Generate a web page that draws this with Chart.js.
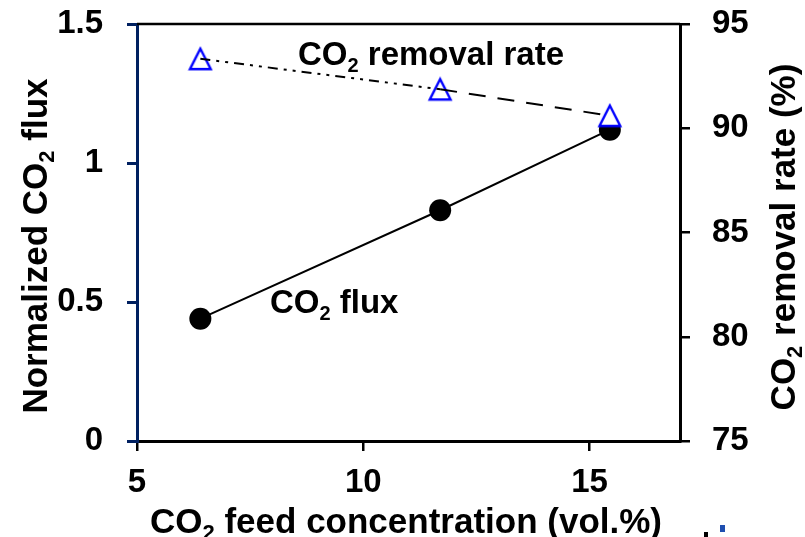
<!DOCTYPE html>
<html><head><meta charset="utf-8">
<script src="https://cdn.jsdelivr.net/npm/chart.js@4"></script>
<style>html,body{margin:0;padding:0;background:#fff}#wrap{width:805px;height:537px;position:relative}</style>
</head><body><div id="wrap"><canvas id="c"></canvas></div>
<script>
// ---- data ----
const feedConc = [6.4, 11.7, 15.45];
const fluxValues = [0.44, 0.83, 1.12];
const removalValues = [93.33, 91.87, 90.6];
const xTicks = [5, 10, 15];
const fluxTicks = [0, 0.5, 1, 1.5];
const removalTicks = [75, 80, 85, 90, 95];
const xTitle = [['CO', 0], ['2', 1], [' feed concentration (vol.%)', 0]];
const yTitle = [['Normalized CO', 0], ['2', 1], [' flux', 0]];
const y2Title = [['CO', 0], ['2', 1], [' removal rate (%)', 0]];
const removalLabel = [['CO', 0], ['2', 1], [' removal rate', 0]];
const fluxLabel = [['CO', 0], ['2', 1], [' flux', 0]];

const FONT = '"Liberation Sans", Arial, sans-serif';
const NAVY = '#002060';

// triangle marker (centred on bounding box like the original)
function makeTriangle() {
  const c = document.createElement('canvas');
  c.width = 26; c.height = 26;
  const g = c.getContext('2d');
  g.beginPath();
  g.moveTo(13, 2.8); g.lineTo(2.6, 23.2); g.lineTo(23.4, 23.2); g.closePath();
  g.fillStyle = '#fff'; g.fill();
  g.lineWidth = 2.4; g.strokeStyle = '#0000ff'; g.lineJoin = 'miter'; g.stroke();
  return c;
}
const tri = makeTriangle();

function richWidth(ctx, parts, size) {
  let w = 0;
  for (const [t, sub] of parts) {
    ctx.font = 'bold ' + (sub ? Math.round(size * 0.62) : size) + 'px ' + FONT;
    w += ctx.measureText(t).width;
  }
  return w;
}
function drawRich(ctx, parts, x, y, size, align) {
  const w = richWidth(ctx, parts, size);
  let cx = align === 'center' ? x - w / 2 : x;
  ctx.fillStyle = '#000';
  ctx.textBaseline = 'alphabetic';
  ctx.textAlign = 'left';
  for (const [t, sub] of parts) {
    ctx.font = 'bold ' + (sub ? Math.round(size * 0.62) : size) + 'px ' + FONT;
    ctx.fillText(t, cx, sub ? y + size * 0.2 : y);
    cx += ctx.measureText(t).width;
  }
}

const textPlugin = {
  id: 'texts',
  afterDraw(chart) {
    const ctx = chart.ctx, a = chart.chartArea;
    ctx.save();
    // top frame line
    ctx.strokeStyle = '#000'; ctx.lineWidth = 2.5;
    ctx.beginPath(); ctx.moveTo(a.left, a.top); ctx.lineTo(a.right, a.top); ctx.stroke();
    // x title
    drawRich(ctx, xTitle, 406, 533, 35, 'center');
    // left title
    ctx.save(); ctx.translate(47, 246); ctx.rotate(-Math.PI / 2);
    drawRich(ctx, yTitle, 0, 0, 35, 'center'); ctx.restore();
    // right title
    ctx.save(); ctx.translate(795, 237); ctx.rotate(-Math.PI / 2);
    drawRich(ctx, y2Title, 0, 0, 35, 'center'); ctx.restore();
    // annotations
    drawRich(ctx, removalLabel, 298, 65, 33, 'left');
    drawRich(ctx, fluxLabel, 270, 313, 33, 'left');
    // small cropped fragments bottom-right
    ctx.fillStyle = '#000'; ctx.fillRect(704, 532, 4, 5);
    ctx.fillStyle = '#1f4fb0'; ctx.fillRect(720, 525, 5, 7);
    ctx.restore();
  }
};

const tickFont = { family: FONT, size: 33, weight: 'bold' };
const plain = v => String(v);
const noPad = s => { s.paddingTop = 0; s.paddingBottom = 0; s.paddingLeft = 0; s.paddingRight = 0; };

new Chart(document.getElementById('c'), {
  type: 'line',
  data: {
    datasets: [
      { // removal-rate line (drawn on top)
        data: feedConc.map((x, i) => ({ x, y: removalValues[i] })),
        yAxisID: 'y2', borderColor: '#000', borderWidth: 2, pointRadius: 0,
        fill: false, tension: 0, order: 0,
        segment: { borderDash: c => c.p0DataIndex === 0 ? [10, 6, 3, 6, 3, 6] : [17, 12] }
      },
      { // removal-rate markers
        data: feedConc.map((x, i) => ({ x, y: removalValues[i] })),
        yAxisID: 'y2', showLine: false, pointStyle: tri, pointRadius: 13,
        order: 1
      },
      { // CO2 flux
        data: feedConc.map((x, i) => ({ x, y: fluxValues[i] })),
        yAxisID: 'y', borderColor: '#000', borderWidth: 2,
        pointStyle: 'circle', pointRadius: 11, pointBackgroundColor: '#000',
        pointBorderColor: '#000', pointBorderWidth: 0, tension: 0, order: 2
      }
    ]
  },
  options: {
    responsive: true, maintainAspectRatio: false, animation: false, devicePixelRatio: 1,
    layout: { padding: { top: 24, left: 0, right: 0, bottom: 0 } },
    plugins: { legend: { display: false }, tooltip: { enabled: false }, title: { display: false } },
    scales: {
      x: {
        type: 'linear', position: 'bottom', min: 5, max: 17,
        afterBuildTicks: s => { s.ticks = xTicks.map(v => ({ value: v })); },
        afterFit: s => { s.height = 96; noPad(s); },
        grid: { drawOnChartArea: false, drawTicks: true, tickLength: 10, color: '#000', lineWidth: 2.5 },
        border: { color: '#000', width: 3 },
        ticks: { font: tickFont, color: '#000', padding: 12, maxRotation: 0, callback: plain }
      },
      y: {
        type: 'linear', position: 'left', min: 0, max: 1.5,
        afterBuildTicks: s => { s.ticks = fluxTicks.map(v => ({ value: v })); },
        afterFit: s => { s.width = 137; noPad(s); },
        grid: { drawOnChartArea: false, drawTicks: true, tickLength: 10, color: NAVY, lineWidth: 3 },
        border: { color: NAVY, width: 3 },
        ticks: { font: tickFont, color: '#000', padding: 24, callback: plain }
      },
      y2: {
        type: 'linear', position: 'right', min: 75, max: 95,
        afterBuildTicks: s => { s.ticks = removalTicks.map(v => ({ value: v })); },
        afterFit: s => { s.width = 125; noPad(s); },
        grid: { drawOnChartArea: false, drawTicks: true, tickLength: 10, color: '#000', lineWidth: 2.5 },
        border: { color: '#000', width: 3 },
        ticks: { font: tickFont, color: '#000', padding: 22, callback: plain }
      }
    }
  },
  plugins: [textPlugin]
});
</script>
</body></html>
